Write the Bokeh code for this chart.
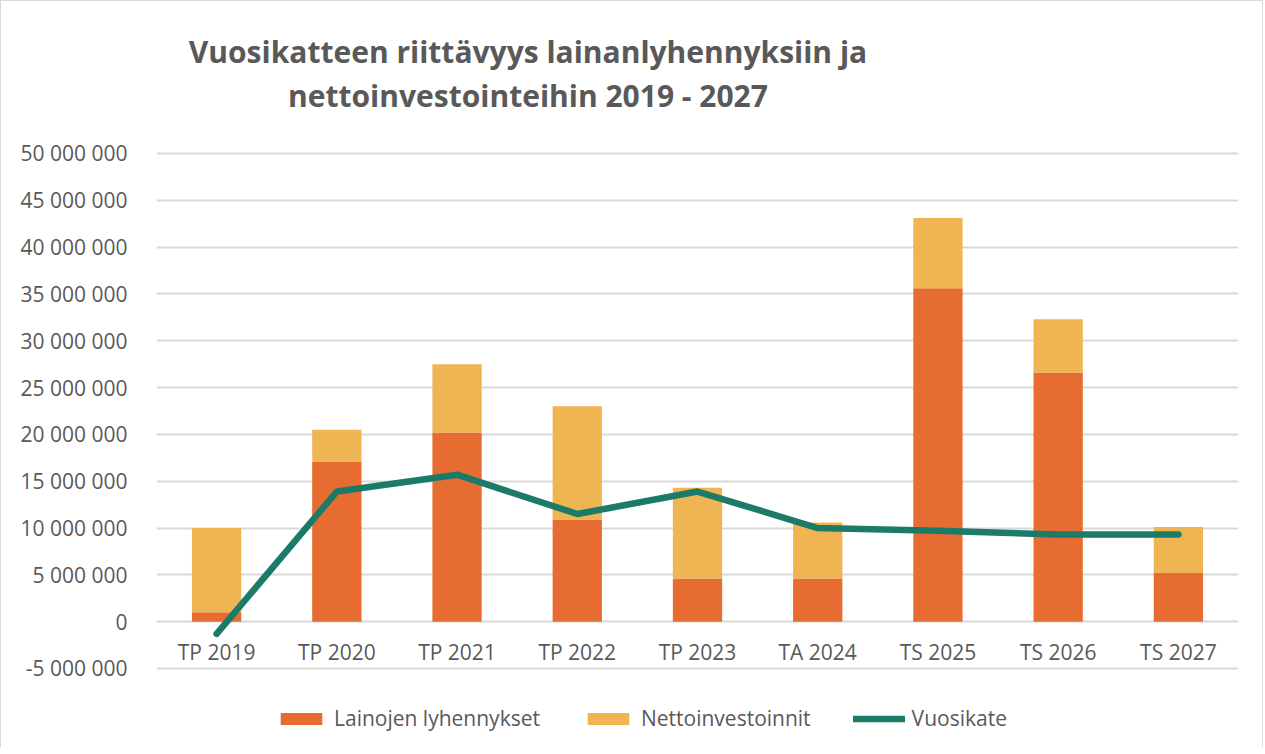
from bokeh.plotting import figure
from bokeh.models import (Range1d, FactorRange, FixedTicker, CustomJSTickFormatter,
                          Legend, LegendItem, Label)
from bokeh.embed import file_html
from bokeh.resources import INLINE

categories = ["TP 2019", "TP 2020", "TP 2021", "TP 2022", "TP 2023",
              "TA 2024", "TS 2025", "TS 2026", "TS 2027"]
lainojen_lyhennykset = [1_000_000, 17_100_000, 20_200_000, 10_900_000, 4_600_000,
                        4_600_000, 35_600_000, 26_600_000, 5_200_000]
nettoinvestoinnit = [9_000_000, 3_400_000, 7_300_000, 12_100_000, 9_700_000,
                     6_000_000, 7_500_000, 5_700_000, 4_900_000]
vuosikate = [-1_300_000, 13_900_000, 15_700_000, 11_500_000, 13_900_000,
             10_000_000, 9_700_000, 9_300_000, 9_300_000]
y_ticks = [-5_000_000, 0, 5_000_000, 10_000_000, 15_000_000, 20_000_000, 25_000_000,
           30_000_000, 35_000_000, 40_000_000, 45_000_000, 50_000_000]
series_names = ["Lainojen lyhennykset", "Nettoinvestoinnit", "Vuosikate"]
title_lines = ["Vuosikatteen riittävyys lainanlyhennyksiin ja",
               "nettoinvestointeihin 2019 - 2027"]

ORANGE = "#E66C32"
YELLOW = "#EEB552"
TEAL = "#1B7A68"
GRAY = "#595959"
FONT = "Open Sans"

# the visible value grid spans -5M..50M; the frame is extended above and below
# so the title and legend can sit inside it
p = figure(x_range=FactorRange(*categories, range_padding=0),
           y_range=Range1d(-13_437_000, 66_233_000),
           frame_width=1082, frame_height=746,
           min_border_left=155, min_border_right=24, min_border_top=0,
           min_border_bottom=0,
           output_backend="svg", toolbar_location=None)
p.outline_line_color = None
p.background_fill_color = "white"
p.border_fill_color = "white"
p.styles = {"border-left": "1px solid #D9D9D9", "border-top": "1px solid #D9D9D9",
            "border-right": "1px solid #D9D9D9"}

data = dict(cat=categories, lain=lainojen_lyhennykset, netto=nettoinvestoinnit)
bars = p.vbar_stack(["lain", "netto"], x="cat", source=data, width=0.41,
                    color=[ORANGE, YELLOW], line_color=None)
line = p.line(categories, vuosikate, line_width=6.5, line_color=TEAL,
              line_cap="round", line_join="round")

# axes
p.yaxis.ticker = FixedTicker(ticks=y_ticks)
p.yaxis.formatter = CustomJSTickFormatter(
    code="return tick.toFixed(0).replace(/\\B(?=(\\d{3})+(?!\\d))/g, ' ');")
p.yaxis.axis_line_color = None
p.yaxis.major_tick_line_color = None
p.yaxis.minor_tick_line_color = None
p.yaxis.major_label_standoff = 23
p.yaxis.major_label_text_font = FONT
p.yaxis.major_label_text_font_size = "21px"
p.yaxis.major_label_text_color = GRAY

p.xaxis.fixed_location = 0
p.xaxis.axis_line_color = None
p.xaxis.major_tick_line_color = None
p.xaxis.minor_tick_line_color = None
p.xaxis.major_label_standoff = 10
p.xaxis.major_label_text_font = FONT
p.xaxis.major_label_text_font_size = "21px"
p.xaxis.major_label_text_color = GRAY

p.xgrid.grid_line_color = None
p.ygrid.grid_line_color = "#D9D9D9"
p.ygrid.grid_line_width = 2

# title
for txt, yy in zip(title_lines, [60_900_000, 56_200_000]):
    p.add_layout(Label(x=3.09, y=yy, text=txt,
                       text_align="center", text_baseline="middle",
                       text_font=FONT, text_font_style="bold",
                       text_font_size="30px", text_color=GRAY))

legend = Legend(items=[LegendItem(label=series_names[0], renderers=[bars[0]]),
                       LegendItem(label=series_names[1], renderers=[bars[1]]),
                       LegendItem(label=series_names[2], renderers=[line])],
                orientation="horizontal", location=(119, 15),
                glyph_width=52, glyph_height=15, spacing=42, label_standoff=7,
                padding=4, margin=0, border_line_color=None,
                label_text_font=FONT, label_text_font_size="21px",
                label_text_color=GRAY, background_fill_alpha=0)
p.add_layout(legend)

open("out.html", "w").write(file_html(p, INLINE))
